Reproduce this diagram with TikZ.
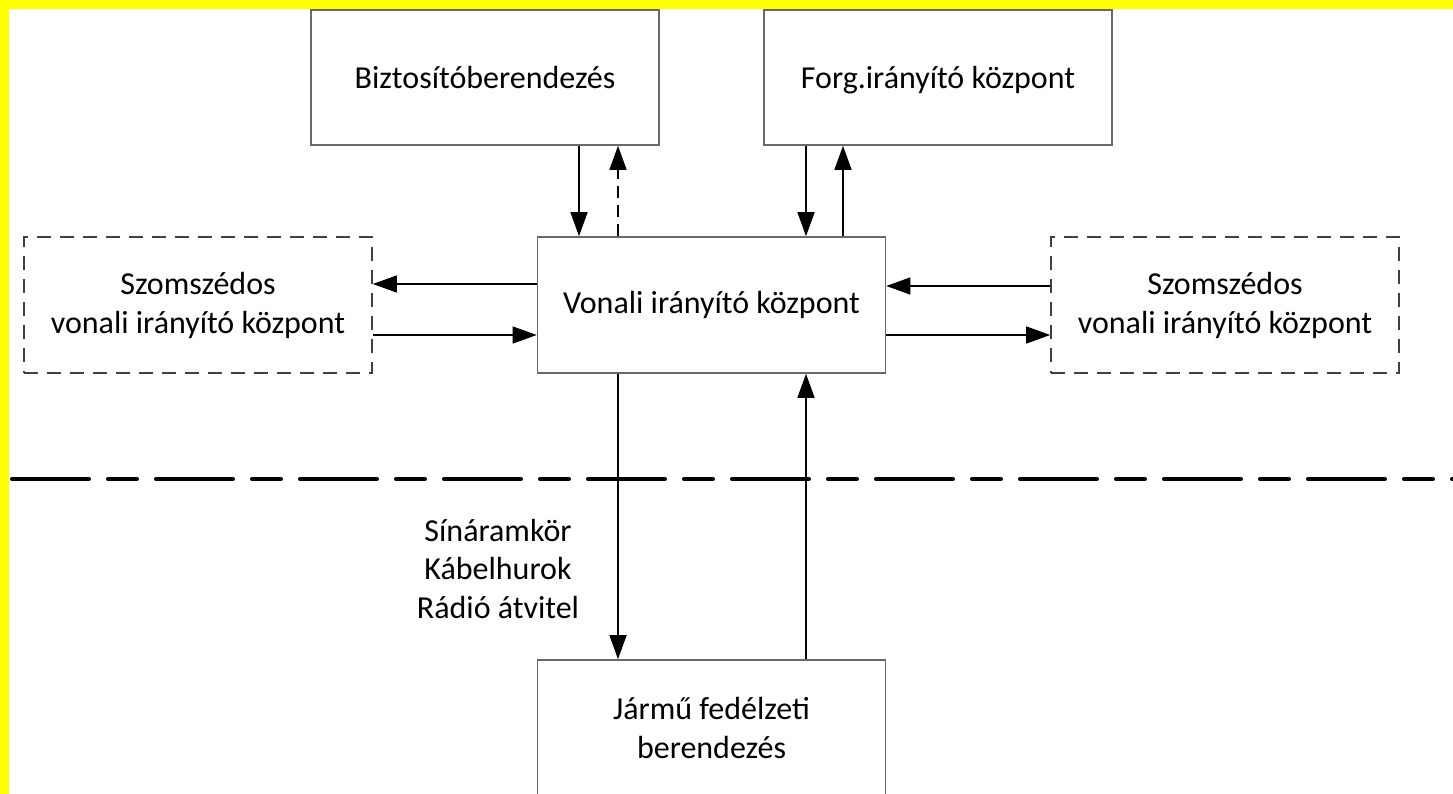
\documentclass[tikz,border=0pt]{standalone}
\usepackage{fontspec}
\setmainfont{Carlito}
\usetikzlibrary{arrows.meta}
\definecolor{boxgrey}{RGB}{105,105,105}
\definecolor{frameyellow}{RGB}{255,255,0}
\begin{document}
\begin{tikzpicture}[x=1pt,y=-1pt,
  box/.style={draw=boxgrey, line width=1.6pt, minimum width=348pt, minimum height=136pt,
    align=center, inner sep=0pt, font=\fontsize{32}{39}\selectfont},
  nbox/.style={box, dashed, draw=black!75, dash pattern=on 14pt off 9pt},
  arr/.style={line width=1.4pt, -{Triangle[length=24pt,width=17pt]}},
  lbl/.style={align=center, font=\fontsize{32}{38.5}\selectfont, inner sep=0pt}]
  \useasboundingbox (0,0) rectangle (1453,794);
  \clip (0,0) rectangle (1453,794);
  % frame
  \fill[frameyellow] (0,0) rectangle (1453,794);
  \fill[white] (9,9) rectangle (1453,794);

  % boundary between trackside and on-board equipment
  \draw[line width=4pt, line cap=round, dash pattern=on 77pt off 19pt on 29pt off 19pt]
    (12,479) -- (1460,479);

  % boxes
  \node[box, minimum height=135pt] (bizt) at (485,77.5) {Biztosítóberendezés};
  \node[box, minimum height=135pt, text depth=0pt] (forg) at (938,77.5) {Forg.irányító központ};
  \node[box] (vonali) at (711.5,305) {Vonali irányító központ};
  \node[nbox] (szl) at (198,305) {Szomszédos\\vonali irányító központ};
  \node[nbox] (szr) at (1225,305) {Szomszédos\\vonali irányító központ};
  \node[box] (jarmu) at (711.5,728) {Jármű fedélzeti\\berendezés};

  % links to the interlocking and the traffic control centre
  \draw[arr] (579,0 |- bizt.south) -- (579,0 |- vonali.north);
  \draw[arr, dash pattern=on 12pt off 7pt] (618,0 |- vonali.north) -- (618,0 |- bizt.south);
  \draw[arr] (806,0 |- forg.south) -- (806,0 |- vonali.north);
  \draw[arr] (843,0 |- vonali.north) -- (843,0 |- forg.south);

  % links to the neighbouring line control centres
  \draw[arr] (vonali.west |- 0,284) -- (szl.east |- 0,284);
  \draw[arr] (szl.east |- 0,335) -- (vonali.west |- 0,335);
  \draw[arr] (szr.west |- 0,286) -- (vonali.east |- 0,286);
  \draw[arr] (vonali.east |- 0,335) -- (szr.west |- 0,335);

  % links to the on-board equipment
  \draw[arr] (618,0 |- vonali.south) -- (618,0 |- jarmu.north);
  \draw[arr] (806,0 |- jarmu.north) -- (806,0 |- vonali.south);

  \node[lbl] (media) at (498,569) {Sínáramkör\\Kábelhurok\\Rádió átvitel};
\end{tikzpicture}
\end{document}
